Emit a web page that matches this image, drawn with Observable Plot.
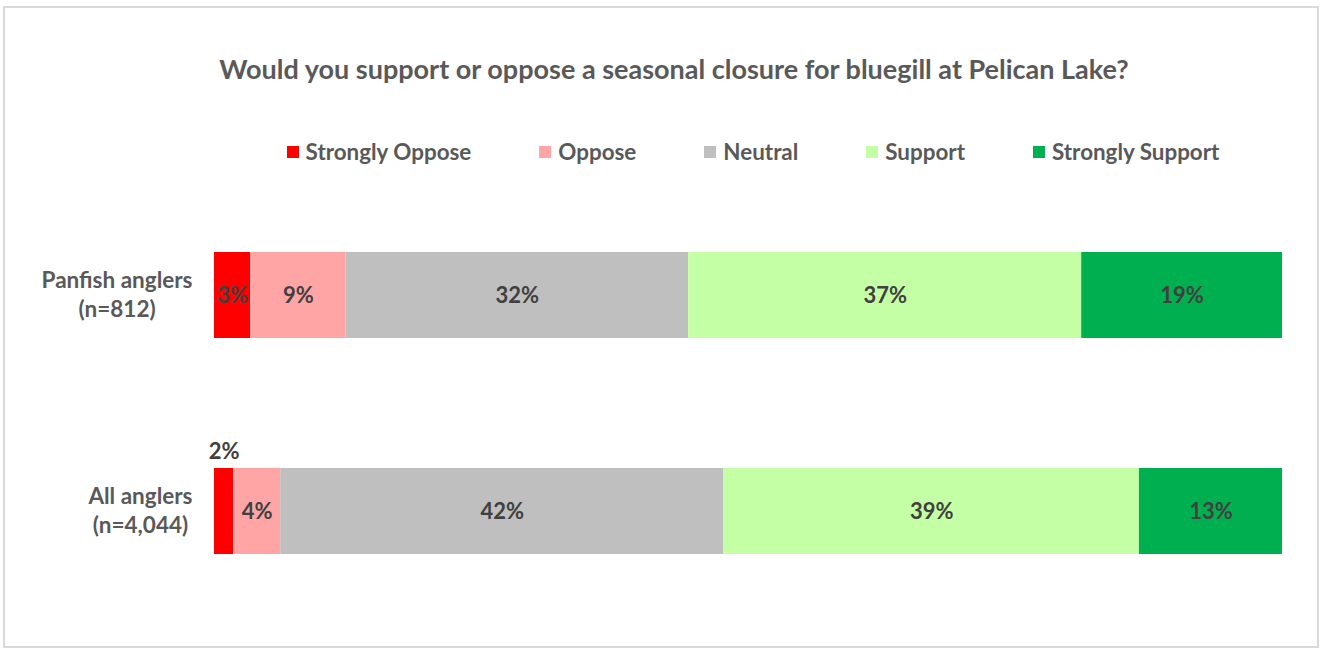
<!DOCTYPE html>
<html><head><meta charset="utf-8">
<script src="https://cdn.jsdelivr.net/npm/d3@7"></script>
<script src="https://cdn.jsdelivr.net/npm/@observablehq/plot@0.6"></script>
<style>
html,body{margin:0;padding:0;background:#fff;}
#wrap{position:relative;width:1323px;height:655px;overflow:hidden;font-family:Lato,"Open Sans",sans-serif;}
#frame{position:absolute;left:3px;top:6px;width:1316px;height:642px;border:2px solid #d9d9d9;box-sizing:border-box;}
#chart{position:absolute;left:0;top:0;}
#title{position:absolute;left:174px;width:1000px;top:53px;text-align:center;font-weight:bold;font-size:27px;color:#595959;white-space:nowrap;line-height:32px;}
#legend{position:absolute;left:253px;width:1000px;top:139px;display:flex;justify-content:center;gap:68px;font-weight:bold;font-size:22.4px;color:#595959;line-height:26px;white-space:nowrap;}
.item{display:flex;align-items:center;}
.sw{width:12px;height:12px;margin-right:7px;}
</style></head><body>
<div id="wrap"><div id="frame"></div><div id="chart"></div><div id="title"></div><div id="legend"></div></div>
<script>
const titleText = "Would you support or oppose a seasonal closure for bluegill at Pelican Lake?";
const categories = ["Strongly Oppose", "Oppose", "Neutral", "Support", "Strongly Support"];
const colors = ["#FF0000", "#FFA5A5", "#BFBFBF", "#C5FFA5", "#00B050"];
const groups = ["Panfish anglers\n(n=812)", "All anglers\n(n=4,044)"];
const panfish = [3.4, 8.9, 32.1, 36.8, 18.8];
const allAnglers = [1.8, 4.4, 41.5, 38.9, 13.4];
const series = [panfish, allAnglers];

const data = groups.flatMap((g, i) => categories.map((c, j) => ({group: g, category: c, value: series[i][j]})));

document.getElementById("title").textContent = titleText;
const legend = document.getElementById("legend");
categories.forEach((c, i) => {
  const it = document.createElement("div"); it.className = "item";
  const sw = document.createElement("span"); sw.className = "sw"; sw.style.background = colors[i];
  const tx = document.createElement("span"); tx.textContent = c;
  it.appendChild(sw); it.appendChild(tx); legend.appendChild(it);
});

const fs = 22;
const lfs = 22.5;
const ctx = document.createElement("canvas").getContext("2d");
ctx.font = `bold ${lfs}px Lato`;
const labelMarks = groups.map(g => {
  const w = d3.max(g.split("\n"), s => ctx.measureText(s).width);
  return Plot.text([g], {y: d => d, frameAnchor: "left", textAnchor: "middle", dx: -(22 + w / 2), dy: -2,
    fontSize: lfs, fontWeight: "bold", fill: "#595959", lineHeight: 1.3});
});
const fmt = d => Math.round(d.value) + "%";

const chart = Plot.plot({
  width: 1323, height: 655,
  marginLeft: 214, marginRight: 41, marginTop: 187, marginBottom: 35,
  style: {fontFamily: "Lato, 'Open Sans', sans-serif", background: "transparent"},
  x: {domain: [0, 100], axis: null},
  y: {domain: groups, axis: null, paddingInner: 0.6, paddingOuter: 0.3},
  color: {domain: categories, range: colors},
  marks: [
    Plot.barX(data, Plot.stackX({x: "value", y: "group", fill: "category"})),
    Plot.text(data, Plot.stackX({x: "value", y: "group", text: d => d.value >= 2.5 ? fmt(d) : "",
      fill: "#404040", fontSize: fs, fontWeight: "bold"})),
    Plot.text(data, Plot.stackX({x: "value", y: "group", text: d => d.value < 2.5 ? fmt(d) : "",
      fill: "#404040", fontSize: fs, fontWeight: "bold", dy: -60})),
    ...labelMarks
  ]
});
document.getElementById("chart").appendChild(chart);
</script>
</body></html>
